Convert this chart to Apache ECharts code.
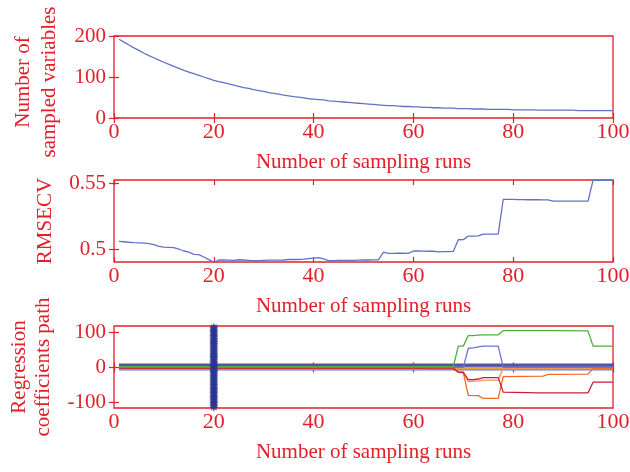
<!DOCTYPE html>
<html><head><meta charset="utf-8">
<script src="https://cdn.jsdelivr.net/npm/echarts@6/dist/echarts.min.js"></script>
<style>html,body{margin:0;padding:0;background:#fff}#c{width:630px;height:472px}</style>
</head><body><div id="c"></div>
<script>
// ---- data ----
const xTicks = [0, 20, 40, 60, 80, 100];
const sampledVars = [192,185,178,171,165,158,152,147,141,136,131,126,121,116,112,108,104,100,96,92,
89,86,83,80,77,74,72,69,67,65,62,60,58,56,54,52,51,49,47,46,
45,44,42,41,40,39,38,37,36,35,34,33,32,31,30,30,29,28,28,27,
27,26,26,25,25,24,24,24,23,23,23,22,22,22,21,21,21,21,21,20,
20,20,20,20,19,19,19,19,19,19,19,19,18,18,18,18,18,18,18,18];
const rmsecv = [0.5063,0.5060,0.5056,0.5053,0.5051,0.5049,0.5045,0.5038,0.5025,0.5019,
0.5018,0.5016,0.5005,0.4990,0.4982,0.4965,0.4963,0.4945,0.4925,0.4907,
0.4922,0.4922,0.4921,0.4920,0.4924,0.4922,0.4920,0.4918,0.4918,0.4920,
0.4921,0.4921,0.4921,0.4922,0.4926,0.4926,0.4926,0.4928,0.4932,0.4936,
0.4940,0.4930,0.4917,0.4918,0.4920,0.4920,0.4920,0.4920,0.4921,0.4922,
0.4922,0.4923,0.4924,0.4982,0.4972,0.4972,0.4973,0.4973,0.4972,0.4990,
0.4990,0.4989,0.4988,0.4988,0.4984,0.4985,0.4986,0.4987,0.5075,0.5076,
0.5103,0.5103,0.5104,0.5118,0.5118,0.5118,0.5118,0.5380,0.5379,0.5379,
0.5378,0.5378,0.5377,0.5377,0.5377,0.5376,0.5376,0.5366,0.5366,0.5366,
0.5366,0.5366,0.5366,0.5366,0.5366,0.5524,0.5524,0.5524,0.5524,0.5524];
// regression coefficient paths as [run, coefficient] breakpoints
const coefGreen = [[1,2],[68,2],[69,60],[70,60],[71,90],[72,90],[73,91],[74,92],[77,92],[78,104],[88,104],[95,103],[96,60],[100,60]];
const coefBlue = [[1,0],[70,0],[71,54],[72,55],[73,58],[74,60],[77,60],[78,0],[100,0]];
const coefCrimson = [[1,-2],[68,-2],[69,-14],[70,-15],[71,-35],[72,-35],[73,-33],[74,-29],[77,-29],[78,-70],[85,-72],[95,-72],[96,-42],[100,-42]];
const coefOrange = [[1,-3],[62,-3],[63,-6],[68,-6],[69,-12],[70,-14],[71,-79],[73,-80],[74,-88],[77,-88],[78,-26],[86,-25],[87,-20],[95,-19],[96,-3],[100,-3]];
const coefSalmon = [[1,-1],[68,-1],[69,-10],[70,-12],[71,-40],[73,-38],[74,-36],[77,-36],[78,-2],[100,-2]];
const band1 = [[1,8],[100,8]];
const band2 = [[1,6],[100,6]];
const band3 = [[1,4],[100,4]];
const band4 = [[1,2],[100,2]];
const band5 = [[1,-3],[100,-3]];
const band6 = [[1,-6],[100,-6]];
const optimalRun = 20;
const starY = [-113,-108,-104,-99,-95,-90,-85,-81,-76,-71,-67,-62,-58,-53,-48,-44,-39,-34,-30,-25,-21,-16,-11,-7,-2,
2,7,12,16,21,26,30,35,39,44,49,53,58,63,67,72,76,81,86,90,95,100,104,109,113];
const yTicksTop = [0, 100, 200];
const yTicksMid = [0.5, 0.55];
const yTicksBot = [-100, 0, 100];

// ---- chart ----
const RED = '#e3202a';
const FONT = 'Liberation Serif';
const runs = sampledVars.map((_, i) => i + 1);
const pairs = vals => runs.map((r, i) => [r, vals[i]]);

const grids = [
  {left:114, top:36, width:499, height:82},
  {left:114, top:180, width:499, height:82},
  {left:114, top:326, width:499, height:82}
].map(g => Object.assign(g, {show:true, borderColor:RED, borderWidth:1.3, backgroundColor:'transparent',
  containLabel:false, outerBoundsMode:'none'}));

function xAxes(gi) {
  const base = {gridIndex:gi, type:'value', min:0, max:100, interval:20,
    axisLine:{show:false}, splitLine:{show:false},
    axisTick:{inside:true, length:5, lineStyle:{color:RED, width:1.2}}};
  return [
    Object.assign({}, base, {position:'bottom',
      axisLabel:{color:RED, fontFamily:FONT, fontSize:22, margin:3},
      name:'Number of sampling runs', nameLocation:'middle', nameGap:34,
      nameTextStyle:{color:RED, fontFamily:FONT, fontSize:21}}),
    Object.assign({}, base, {position:'top', axisLabel:{show:false}})
  ];
}
function yAxes(gi, min, max, ticks, name, gap, lh, pad) {
  const base = {gridIndex:gi, type:'value', min:min, max:max,
    axisLine:{show:false}, splitLine:{show:false},
    axisTick:{inside:true, length:5, lineStyle:{color:RED, width:1.2}, customValues:ticks}};
  return [
    Object.assign({}, base, {position:'left',
      axisLabel:{color:RED, fontFamily:FONT, fontSize:21, margin:8, customValues:ticks},
      name:name, nameLocation:'middle', nameRotate:90, nameGap:gap,
      nameTextStyle:{color:RED, fontFamily:FONT, fontSize:21, lineHeight:lh, padding:pad}}),
    Object.assign({}, base, {position:'right', axisLabel:{show:false, customValues:ticks}})
  ];
}

const line = (gi, data, color, w) => ({type:'line', xAxisIndex:2*gi, yAxisIndex:2*gi, data:data,
  showSymbol:false, symbol:'none', lineStyle:{color:color, width:w||1.3}, silent:true, z:2});

const option = {
  animation:false,
  backgroundColor:'#ffffff',
  grid: grids,
  xAxis: [].concat(xAxes(0), xAxes(1), xAxes(2)),
  yAxis: [].concat(
    yAxes(0, 0, 200, yTicksTop, 'Number of\nsampled variables', 52, 26, [0, 10, 0, 0]),
    yAxes(1, 0.4907, 0.5526, yTicksMid, 'RMSECV', 58, 22, 0),
    yAxes(2, -115, 117, yTicksBot, 'Regression\ncoefficients path', 59, 24, 0)
  ),
  series: [
    line(0, pairs(sampledVars), '#6472c6'),
    line(1, pairs(rmsecv), '#6472c6'),
    line(2, band4, '#8a86a8', 2),
    line(2, band6, '#5d7fd4', 2),
    line(2, band5, '#e8a43a', 2),
    line(2, band3, '#6a6ab8', 2),
    line(2, band2, '#4a5bb5', 2),
    line(2, band1, '#5b4ea6', 2),
    line(2, coefSalmon, '#f5905c'),
    line(2, coefOrange, '#f36a22'),
    line(2, coefCrimson, '#c81e3c'),
    line(2, coefBlue, '#6878cc'),
    line(2, coefGreen, '#4cb03a'),
    {type:'scatter', xAxisIndex:4, yAxisIndex:4, silent:true, z:5,
      data: starY.map(v => [optimalRun, v]),
      symbol:'path://M5,0L5,10M0,5L10,5M1.5,1.5L8.5,8.5M1.5,8.5L8.5,1.5', symbolSize:8,
      itemStyle:{color:'rgba(0,0,0,0)', borderColor:'#2b3590', borderWidth:1.3}}
  ]
};
const chart = echarts.init(document.getElementById('c'), null, {renderer:'canvas'});
chart.setOption(option);
</script></body></html>
